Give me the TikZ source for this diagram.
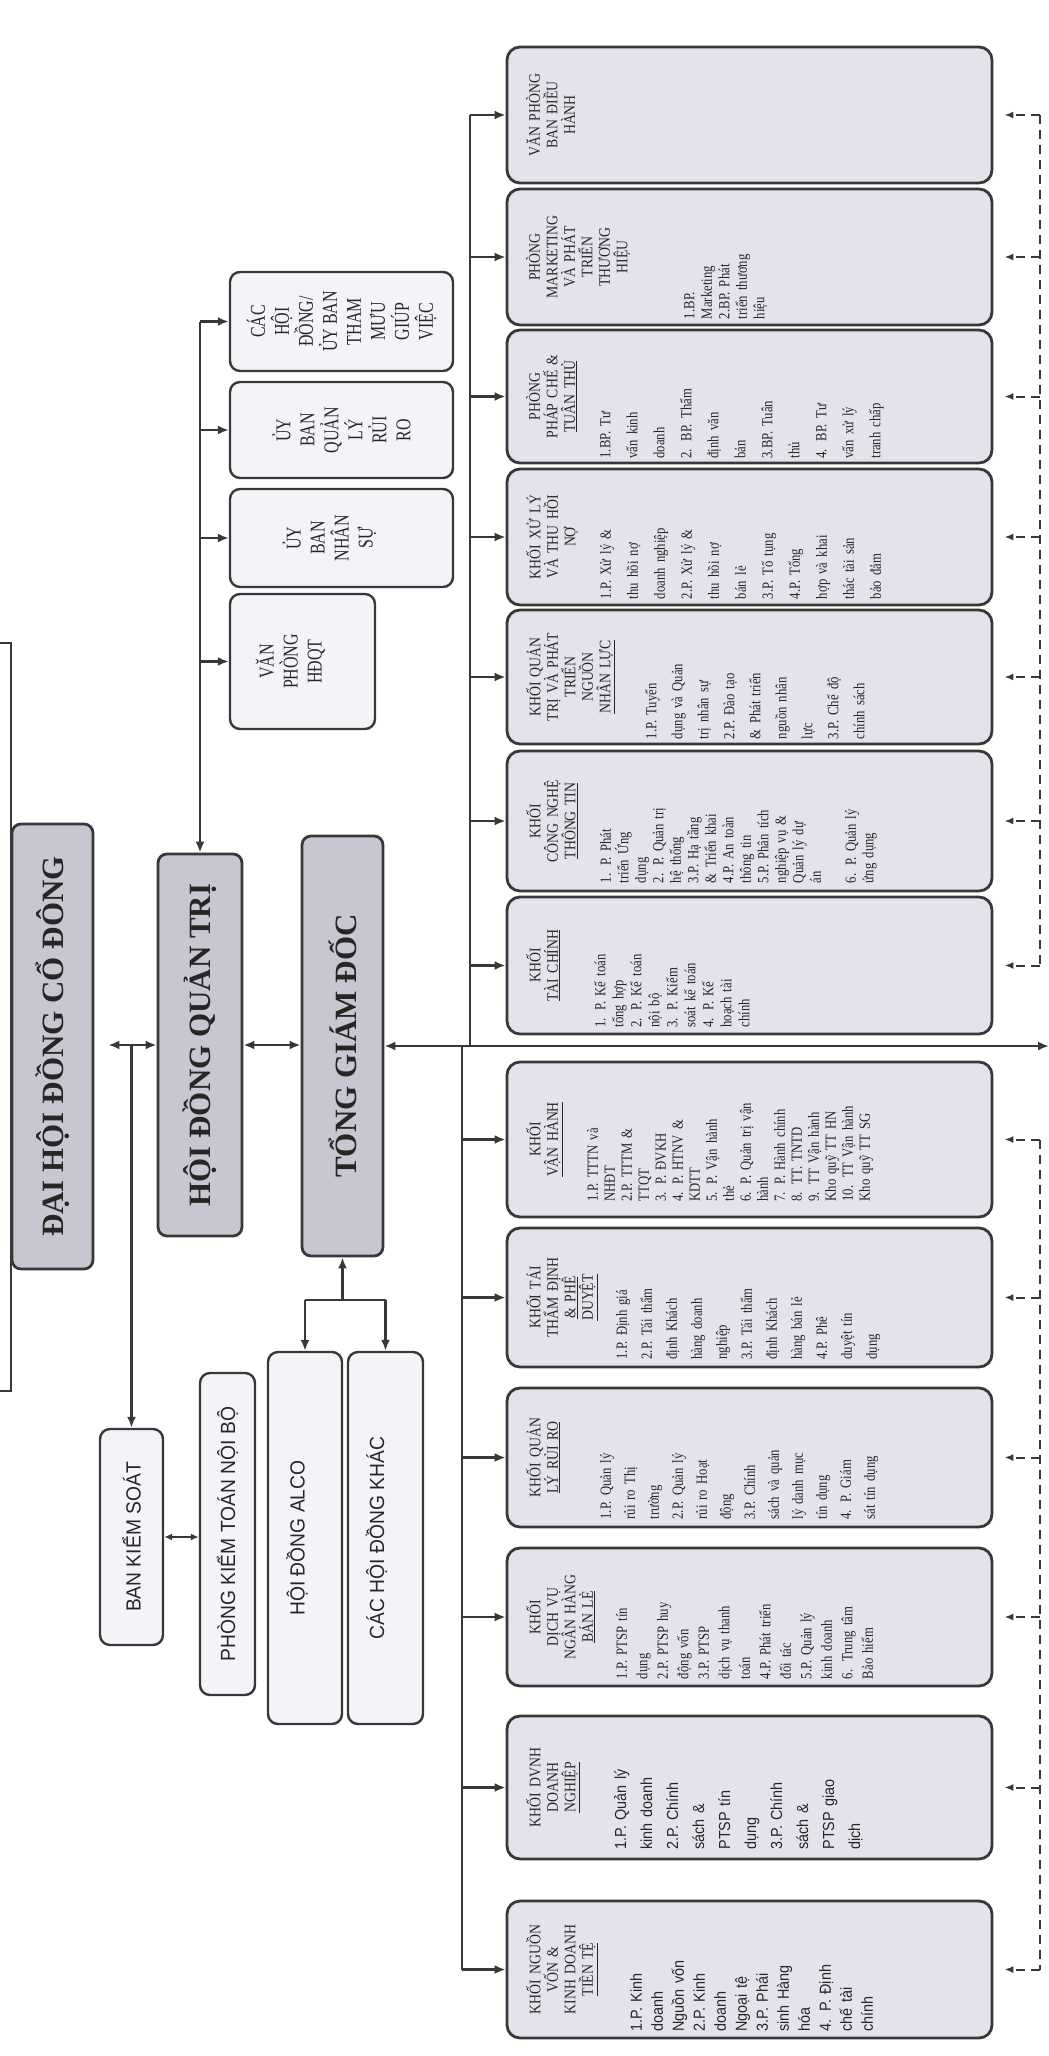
\documentclass[tikz,border=0pt]{standalone}
\usepackage{fontspec}
\setmainfont{Liberation Serif}
\newfontfamily\narrowserif[FakeStretch=0.82]{Liberation Serif}
\newfontfamily\titleserif[FakeStretch=0.86]{Liberation Serif}
\newfontfamily\tallserif[FakeStretch=0.76]{Liberation Serif}
\newfontfamily\plainsans[FakeStretch=0.94]{Liberation Sans}
\newfontfamily\narrowsans[FakeStretch=0.9]{Liberation Sans}
\usetikzlibrary{arrows.meta}
\definecolor{ink}{HTML}{383838}
\definecolor{textink}{HTML}{262626}
\definecolor{headfill}{HTML}{C9C6D1}
\definecolor{unitfill}{HTML}{E4E2EB}
\definecolor{paperfill}{HTML}{F5F3F8}
\begin{document}
\begin{tikzpicture}[x=1pt, y=-1pt,
    headbox/.style={draw=ink, line width=2.8pt, fill=headfill, rounded corners=9pt, inner sep=0pt},
    unitbox/.style={draw=ink, line width=2.8pt, fill=unitfill, rounded corners=13pt, minimum width=485pt, inner sep=0pt},
    sidebox/.style={draw=ink, line width=2.4pt, fill=paperfill, rounded corners=10pt, inner sep=0pt},
    headtxt/.style={rotate=90, text=textink, inner sep=0pt, font=\bfseries\fontsize{31}{33}\selectfont},
    sidetxt/.style={rotate=90, text=textink, inner sep=0pt, align=center, font=\tallserif\fontsize{21}{24}\selectfont},
    smalltxt/.style={rotate=90, text=textink, inner sep=0pt, font=\plainsans\fontsize{20.5}{22}\selectfont},
    unittitle/.style={rotate=90, anchor=north, inner sep=0pt, text=textink, align=center, text width=124pt, font=\titleserif\fontsize{16}{17.5}\selectfont},
    unititems/.style={rotate=90, anchor=north, inner sep=0pt, text=textink, align=left, text width=124pt, font=\narrowserif\fontsize{15.5}{#1}\selectfont},
    sansitems/.style={rotate=90, anchor=north, inner sep=0pt, text=textink, align=left, text width=124pt, font=\narrowsans\fontsize{16}{#1}\selectfont},
    conn/.style={draw=ink, line width=2.6pt},
    arr/.style={draw=ink, line width=2.6pt, -{Latex[length=11pt,width=9pt]}},
    dblarr/.style={draw=ink, line width=2.6pt, {Latex[length=11pt,width=9pt]}-{Latex[length=11pt,width=9pt]}},
    smalldbl/.style={draw=ink, line width=2.2pt, {Latex[length=8pt,width=7pt]}-{Latex[length=8pt,width=7pt]}},
    dashconn/.style={draw=ink, line width=2pt, dash pattern=on 9pt off 6pt},
    dasharr/.style={draw=ink, line width=2pt, dash pattern=on 9pt off 6pt, -{Latex[length=9pt,width=7pt]}}
]
\fill[white] (0,0) rectangle (1049,2056);
\useasboundingbox (0,0) rectangle (1049,2056);

% main column
\node[headbox, minimum width=81pt, minimum height=445pt] (dhcd) at (52.5,1046.5) {};
\node[headtxt] (dhcd-t) at (dhcd) {ĐẠI HỘI ĐỒNG CỔ ĐÔNG};
\node[headbox, minimum width=84pt, minimum height=382pt] (hdqt) at (200,1045) {};
\node[headtxt] (hdqt-t) at (hdqt) {HỘI ĐỒNG QUẢN TRỊ};
\node[headbox, minimum width=81pt, minimum height=420pt] (tgd) at (342.5,1046) {};
\node[headtxt] (tgd-t) at (tgd) {TỔNG GIÁM ĐỐC};

\draw[conn] (0,643) -- (11,643) -- (11,1391) -- (0,1391);

% committees of the board
\node[sidebox, minimum width=223pt, minimum height=99pt] (cachd) at (341.5,321.5) {};
\node[sidetxt] (cachd-t) at (cachd) {CÁC\\HỘI\\ĐỒNG/\\ỦY BAN\\THAM\\MƯU\\GIÚP\\VIỆC};
\node[sidebox, minimum width=223pt, minimum height=96pt] (ubqlrr) at (341.5,430) {};
\node[sidetxt] (ubqlrr-t) at (ubqlrr) {ỦY\\BAN\\QUẢN\\LÝ\\RỦI\\RO};
\node[sidebox, minimum width=223pt, minimum height=98pt] (ubns) at (341.5,538) {};
\node[sidetxt] (ubns-t) at ([xshift=-12pt]ubns.center) {ỦY\\BAN\\NHÂN\\SỰ};
\node[sidebox, minimum width=145pt, minimum height=135pt] (vphdqt) at (302.5,661.5) {};
\node[sidetxt] (vphdqt-t) at ([xshift=-12pt]vphdqt.center) {VĂN\\PHÒNG\\HĐQT};

% control and councils
\node[sidebox, minimum width=63pt, minimum height=216pt] (bks) at (131.5,1537) {};
\node[smalltxt] (bks-t) at (bks) {BAN KIỂM SOÁT};
\node[sidebox, minimum width=55pt, minimum height=322pt] (pktnb) at (227.5,1534) {};
\node[smalltxt] (pktnb-t) at (pktnb) {PHÒNG KIỂM TOÁN NỘI BỘ};
\node[sidebox, minimum width=74pt, minimum height=372pt] (alco) at (305,1538) {};
\node[smalltxt] (alco-t) at ([xshift=-8pt]alco.center) {HỘI ĐỒNG ALCO};
\node[sidebox, minimum width=75pt, minimum height=372pt] (khac) at (385.5,1538) {};
\node[smalltxt] (khac-t) at ([xshift=-9pt]khac.center) {CÁC HỘI ĐỒNG KHÁC};

% units
\node[unitbox, minimum height=136pt] (vpbdh) at (749.5,115) {};
\node[unittitle] (vpbdh-t) at (526,115) {VĂN PHÒNG\\BAN ĐIỀU\\HÀNH};

\node[unitbox, minimum height=136pt] (mkt) at (749.5,257) {};
\node[unittitle] (mkt-t) at (526,257) {PHÒNG\\MARKETING\\VÀ PHÁT\\TRIỂN\\THƯƠNG\\HIỆU};
\node[unititems=17.5] (mkt-i) at (684,257) {1.BP.\\Marketing\\2.BP. Phát\\triển thương\\hiệu};

\node[unitbox, minimum height=133pt] (phapche) at (749.5,396.5) {};
\node[unittitle] (phapche-t) at (526,396.5) {PHÒNG\\PHÁP CHẾ \&\\\underline{TUÂN THỦ}};
\node[unititems=27] (phapche-i) at (600,396.5) {1.BP. Tư\\vấn kinh\\doanh\\2. BP. Thẩm\\định văn\\bản\\3.BP. Tuân\\thủ\\4. BP. Tư\\vấn xử lý\\tranh chấp};

\node[unitbox, minimum height=136pt] (xuly) at (749.5,537) {};
\node[unittitle] (xuly-t) at (526,537) {KHỐI XỬ LÝ\\VÀ THU HỒI\\NỢ};
\node[unititems=27] (xuly-i) at (600,537) {1.P. Xử lý \&\\thu hồi nợ\\doanh nghiệp\\2.P. Xử lý \&\\thu hồi nợ\\bán lẻ\\3.P. Tố tụng\\4.P. Tổng\\hợp và khai\\thác tài sản\\bảo đảm};

\node[unitbox, minimum height=134pt] (nnl) at (749.5,677) {};
\node[unittitle] (nnl-t) at (526,677) {KHỐI QUẢN\\TRỊ VÀ PHÁT\\TRIỂN\\NGUỒN\\\underline{NHÂN LỰC}};
\node[unititems=26] (nnl-i) at (645,677) {1.P. Tuyển\\dụng và Quản\\trị nhân sự\\2.P. Đào tạo\\\& Phát triển\\nguồn nhân\\lực\\3.P. Chế độ\\chính sách};

\node[unitbox, minimum height=140pt] (cntt) at (749.5,821) {};
\node[unittitle] (cntt-t) at (526,821) {KHỐI\\CÔNG NGHỆ\\\underline{THÔNG TIN}};
\node[unititems=17.5] (cntt-i) at (600,821) {1. P. Phát\\triển Ứng\\dụng\\2. P. Quản trị\\hệ thống\\3.P. Hạ tầng\\\& Triển khai\\4.P. An toàn\\thông tin\\5.P. Phân tích\\nghiệp vụ \&\\Quản lý dự\\án\\[17.5pt]6. P. Quản lý\\ứng dụng};

\node[unitbox, minimum height=137pt] (taichinh) at (749.5,965.5) {};
\node[unittitle] (taichinh-t) at (526,965.5) {KHỐI\\\underline{TÀI CHÍNH}};
\node[unititems=18] (taichinh-i) at (594,965.5) {1. P. Kế toán\\tổng hợp\\2. P. Kế toán\\nội bộ\\3. P. Kiểm\\soát kế toán\\4. P. Kế\\hoạch tài\\chính};

\node[unitbox, minimum height=155pt] (vanhanh) at (749.5,1139.5) {};
\node[unittitle] (vanhanh-t) at (526,1139.5) {KHỐI\\\underline{VẬN HÀNH}};
\node[unititems=17] (vanhanh-i) at (587,1139.5) {1.P. TTTN và\\NHĐT\\2.P. TTTM \&\\TTQT\\3. P. ĐVKH\\4. P. HTNV \&\\KDTT\\5. P. Vận hành\\thẻ\\6. P. Quản trị vận\\hành\\7. P. Hành chính\\8. TT. TNTD\\9. TT Vận hành\\Kho quỹ TT HN\\10. TT Vận hành\\Kho quỹ TT SG};

\node[unitbox, minimum height=139pt] (taitham) at (749.5,1297.5) {};
\node[unittitle] (taitham-t) at (526,1297.5) {KHỐI TÁI\\THẨM ĐỊNH\\\underline{\& PHÊ}\\\underline{DUYỆT}};
\node[unititems=25] (taitham-i) at (616,1297.5) {1.P. Định giá\\2.P. Tái thẩm\\định Khách\\hàng doanh\\nghiệp\\3.P. Tái thẩm\\định Khách\\hàng bán lẻ\\4.P. Phê\\duyệt tín\\dụng};

\node[unitbox, minimum height=139pt] (qlrr) at (749.5,1457.5) {};
\node[unittitle] (qlrr-t) at (526,1457.5) {KHỐI QUẢN\\\underline{LÝ RỦI RO}};
\node[unititems=24] (qlrr-i) at (600,1457.5) {1.P. Quản lý\\rủi ro Thị\\trường\\2.P. Quản lý\\rủi ro Hoạt\\động\\3.P. Chính\\sách và quản\\lý danh mục\\tín dụng\\4. P. Giám\\sát tín dụng};

\node[unitbox, minimum height=138pt] (banle) at (749.5,1617) {};
\node[unittitle] (banle-t) at (526,1617) {KHỐI\\DỊCH VỤ\\NGÂN HÀNG\\\underline{BÁN LẺ}};
\node[unititems=20.5] (banle-i) at (616,1617) {1.P. PTSP tín\\dụng\\2.P. PTSP huy\\động vốn\\3.P. PTSP\\dịch vụ thanh\\toán\\4.P. Phát triển\\đối tác\\5.P. Quản lý\\kinh doanh\\6. Trung tâm\\Bảo hiểm};

\node[unitbox, minimum height=143pt] (dn) at (749.5,1787.5) {};
\node[unittitle] (dn-t) at (526,1787.5) {KHỐI DVNH\\DOANH\\\underline{NGHIỆP}};
\node[sansitems=26] (dn-i) at (614,1787.5) {1.P. Quản lý\\kinh doanh\\2.P. Chính\\sách \&\\PTSP tín\\dụng\\3.P. Chính\\sách \&\\PTSP giao\\dịch};

\node[unitbox, minimum height=137pt] (nguonvon) at (749.5,1969.5) {};
\node[unittitle] (nguonvon-t) at (526,1969.5) {KHỐI NGUỒN\\VỐN \&\\KINH DOANH\\\underline{TIỀN TỆ}};
\node[sansitems=21] (nguonvon-i) at (630,1969.5) {1.P. Kinh\\doanh\\Nguồn vốn\\2.P. Kinh\\doanh\\Ngoại tệ\\3.P. Phái\\sinh Hàng\\hóa\\4. P. Định\\chế tài\\chính};

% connectors, left part
\coordinate (jleft) at (bks.north |- hdqt.west);
\draw[arr] (jleft) -- (hdqt.west);
\draw[arr] (jleft) -- ([xshift=14pt]dhcd.east |- jleft);
\draw[arr] (jleft) -- (bks.north);
\draw[smalldbl] (bks.east) -- (bks.east -| pktnb.west);
\draw[dblarr] (hdqt.east) -- (hdqt.east -| tgd.west);

\draw[arr] (hdqt.north |- cachd.west) -- (hdqt.north);
\draw[arr] (hdqt.north |- cachd.west) -- (cachd.west);
\draw[arr] (hdqt.north |- ubqlrr.west) -- (ubqlrr.west);
\draw[arr] (hdqt.north |- ubns.west) -- (ubns.west);
\draw[arr] (hdqt.north |- vphdqt.west) -- (vphdqt.west);

\coordinate (tgdfork) at (342.5,1300);
\draw[arr] (tgdfork) -- (tgd.south);
\draw[conn] (tgdfork -| alco.north) -- (tgdfork -| khac.north);
\draw[arr] (tgdfork -| alco.north) -- (alco.north);
\draw[arr] (tgdfork -| khac.north) -- (khac.north);

% connectors, units
\coordinate (edge) at (1049,1046);
\draw[dblarr] (edge) -- (tgd.east);
\coordinate (bustop) at (470,115);
\coordinate (busbot) at (462,1969.5);
\draw[conn] (bustop) -- (bustop |- edge);
\draw[conn] (busbot |- edge) -- (busbot);
\draw[arr] (bustop |- vpbdh.west) -- (vpbdh.west);
\draw[arr] (bustop |- mkt.west) -- (mkt.west);
\draw[arr] (bustop |- phapche.west) -- (phapche.west);
\draw[arr] (bustop |- xuly.west) -- (xuly.west);
\draw[arr] (bustop |- nnl.west) -- (nnl.west);
\draw[arr] (bustop |- cntt.west) -- (cntt.west);
\draw[arr] (bustop |- taichinh.west) -- (taichinh.west);
\draw[arr] (busbot |- vanhanh.west) -- (vanhanh.west);
\draw[arr] (busbot |- taitham.west) -- (taitham.west);
\draw[arr] (busbot |- qlrr.west) -- (qlrr.west);
\draw[arr] (busbot |- banle.west) -- (banle.west);
\draw[arr] (busbot |- dn.west) -- (dn.west);
\draw[arr] (busbot |- nguonvon.west) -- (nguonvon.west);

% dashed feedback lines
\coordinate (dashtop) at (1040,115);
\coordinate (dashbot) at (1040,1139.5);
\draw[dashconn] (dashtop) -- (dashtop |- taichinh.east);
\draw[dashconn] (dashbot) -- (dashbot |- nguonvon.east);
\draw[dasharr] (dashtop |- vpbdh.east) -- ([xshift=11pt]vpbdh.east);
\draw[dasharr] (dashtop |- mkt.east) -- ([xshift=11pt]mkt.east);
\draw[dasharr] (dashtop |- phapche.east) -- ([xshift=11pt]phapche.east);
\draw[dasharr] (dashtop |- xuly.east) -- ([xshift=11pt]xuly.east);
\draw[dasharr] (dashtop |- nnl.east) -- ([xshift=11pt]nnl.east);
\draw[dasharr] (dashtop |- cntt.east) -- ([xshift=11pt]cntt.east);
\draw[dasharr] (dashtop |- taichinh.east) -- ([xshift=11pt]taichinh.east);
\draw[dasharr] (dashbot |- vanhanh.east) -- ([xshift=11pt]vanhanh.east);
\draw[dasharr] (dashbot |- taitham.east) -- ([xshift=11pt]taitham.east);
\draw[dasharr] (dashbot |- qlrr.east) -- ([xshift=11pt]qlrr.east);
\draw[dasharr] (dashbot |- banle.east) -- ([xshift=11pt]banle.east);
\draw[dasharr] (dashbot |- dn.east) -- ([xshift=11pt]dn.east);
\draw[dasharr] (dashbot |- nguonvon.east) -- ([xshift=11pt]nguonvon.east);
\end{tikzpicture}
\end{document}
